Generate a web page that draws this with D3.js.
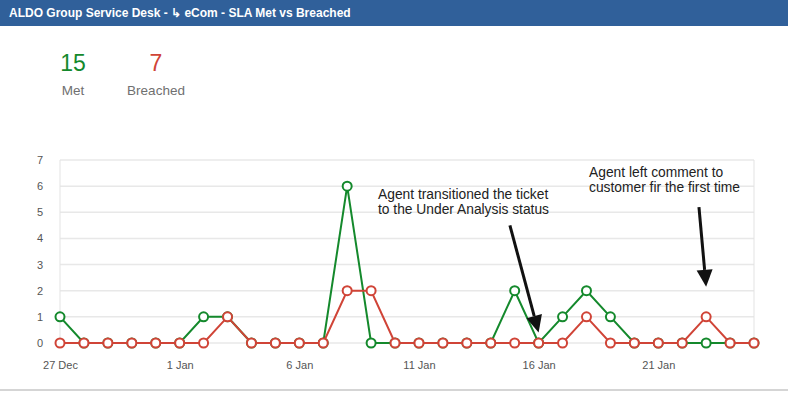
<!DOCTYPE html>
<html>
<head>
<meta charset="utf-8">
<script src="https://cdn.jsdelivr.net/npm/d3@7"></script>
<style>
  body { margin: 0; background: #fff; font-family: Arial, "Liberation Sans", sans-serif; }
  svg { display: block; }
</style>
</head>
<body>
<svg id="chart" width="788" height="393"></svg>
<script>
// data
const days = ['27 Dec','28 Dec','29 Dec','30 Dec','31 Dec','1 Jan','2 Jan','3 Jan','4 Jan','5 Jan',
    '6 Jan','7 Jan','8 Jan','9 Jan','10 Jan','11 Jan','12 Jan','13 Jan','14 Jan','15 Jan',
    '16 Jan','17 Jan','18 Jan','19 Jan','20 Jan','21 Jan','22 Jan','23 Jan','24 Jan','25 Jan']
const met =      [1,0,0,0,0,0,1,1,0,0,0,0,6,0,0,0,0,0,0,2,0,1,2,1,0,0,0,0,0,0]
const breached = [0,0,0,0,0,0,0,1,0,0,0,0,2,2,0,0,0,0,0,0,0,0,1,0,0,0,0,1,0,0]
const xTickLabels = ['27 Dec','1 Jan','6 Jan','11 Jan','16 Jan','21 Jan']
const yTicks = [0,1,2,3,4,5,6,7]
const title = 'ALDO Group Service Desk - \u21b3 eCom - SLA Met vs Breached'
const totals = [
    {label: 'Met', value: 15, color: '#14892c'},
    {label: 'Breached', value: 7, color: '#d04437'}
]
const annotations = [
    {lines: ['Agent transitioned the ticket', 'to the Under Analysis status'], day: '16 Jan', value: 0.4, from: [-1.2, 4.5]},
    {lines: ['Agent left comment to', 'customer fir the first time'], day: '23 Jan', value: 2.15, from: [-0.3, 5.2]}
]

const svg = d3.select('#chart')
const W = 788, H = 393
const margin = {left: 60, top: 160, right: 754, bottom: 343}

// header
svg.append('rect').attr('width', W).attr('height', 26).attr('fill', '#30609a')
svg.append('text')
    .attr('x', 9).attr('y', 17)
    .attr('fill', '#fff')
    .style('font-size', '12px')
    .style('font-weight', 'bold')
    .text(title)

// bottom border
svg.append('line')
    .attr('x1', 0).attr('x2', W).attr('y1', 390).attr('y2', 390)
    .attr('stroke', '#d5d5d5').attr('stroke-width', 2)

// totals
const tot = svg.selectAll('g.total').data(totals).join('g')
    .attr('class', 'total')
    .attr('transform', (d, i) => `translate(${i ? 156 : 73}, 0)`)
tot.append('text')
    .attr('y', 71).attr('text-anchor', 'middle')
    .attr('fill', d => d.color)
    .style('font-size', '23px')
    .text(d => d.value)
tot.append('text')
    .attr('y', 95).attr('text-anchor', 'middle')
    .attr('fill', '#707070')
    .style('font-size', '13.5px')
    .text(d => d.label)

const x = d3.scalePoint().domain(days).range([margin.left, margin.right])
const y = d3.scaleLinear().domain([0, 7]).range([margin.bottom, margin.top])

// grid
const grid = svg.append('g')
grid.selectAll('line.h').data(yTicks).join('line')
    .attr('class', 'h')
    .attr('x1', margin.left).attr('x2', margin.right)
    .attr('y1', d => y(d)).attr('y2', d => y(d))
    .attr('stroke', '#e8e8e8').attr('stroke-width', 1.5)
grid.append('line')
    .attr('x1', margin.left).attr('x2', margin.left)
    .attr('y1', margin.top).attr('y2', margin.bottom)
    .attr('stroke', '#e3e3e3').attr('stroke-width', 1)
grid.append('line')
    .attr('x1', margin.right).attr('x2', margin.right)
    .attr('y1', margin.top).attr('y2', margin.bottom)
    .attr('stroke', '#e3e3e3').attr('stroke-width', 1)

// axes
const yAxis = svg.append('g')
    .attr('transform', `translate(${margin.left - 20}, 0)`)
    .call(d3.axisLeft(y).tickValues(yTicks).tickFormat(d3.format('d')).tickSize(0).tickPadding(0))
const xAxis = svg.append('g')
    .attr('transform', `translate(0, ${margin.bottom + 18})`)
    .call(d3.axisBottom(x).tickValues(xTickLabels).tickSize(0).tickPadding(0))
yAxis.select('.domain').remove()
xAxis.select('.domain').remove()
svg.selectAll('.tick text')
    .attr('fill', '#555')
    .style('font-size', '11px')
    .style('font-family', 'Arial, "Liberation Sans", sans-serif')
yAxis.selectAll('.tick text').attr('text-anchor', 'middle')

// series
const series = [
    {values: met, color: '#14892c'},
    {values: breached, color: '#d04437'}
]
const line = d3.line().x((d, i) => x(days[i])).y(d => y(d))
const sg = svg.selectAll('g.series').data(series).join('g').attr('class', 'series')
sg.append('path')
    .attr('d', d => line(d.values))
    .attr('fill', 'none')
    .attr('stroke', d => d.color)
    .attr('stroke-width', 2)
sg.selectAll('circle')
    .data(d => d.values.map((v, i) => ({v, i, color: d.color})))
    .join('circle')
    .attr('cx', d => x(days[d.i]))
    .attr('cy', d => y(d.v))
    .attr('r', 4.5)
    .attr('fill', '#fff')
    .attr('stroke', d => d.color)
    .attr('stroke-width', 2)

// annotations: line + filled head
const step = x.step()
const headLen = 17, headHalf = 8
annotations.forEach((a, k) => {
    const tx = x(a.day), ty = y(a.value)
    const fx = tx + a.from[0] * step, fy = y(a.from[1])
    const len = Math.hypot(tx - fx, ty - fy)
    const ux = (tx - fx) / len, uy = (ty - fy) / len
    const bx = tx - ux * headLen, by = ty - uy * headLen
    svg.append('line')
        .attr('x1', fx).attr('y1', fy).attr('x2', bx).attr('y2', by)
        .attr('stroke', '#111').attr('stroke-width', 3)
    svg.append('path')
        .attr('d', d3.line()([[tx, ty], [bx - uy * headHalf, by + ux * headHalf], [bx + uy * headHalf, by - ux * headHalf]]) + 'Z')
        .attr('fill', '#111')
    const t = svg.append('text')
        .attr('x', k ? 589 : 378)
        .attr('y', k ? 177 : 199)
        .attr('fill', '#222')
        .style('font-size', '13.8px')
    t.selectAll('tspan').data(a.lines).join('tspan')
        .attr('x', k ? 589 : 378)
        .attr('dy', (d, i) => i ? 14.5 : 0)
        .text(d => d)
})
</script>
</body>
</html>
